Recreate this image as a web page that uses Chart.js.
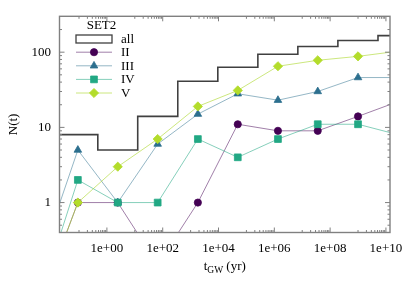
<!DOCTYPE html>
<html><head><meta charset="utf-8">
<script src="https://cdn.jsdelivr.net/npm/chart.js@4/dist/chart.umd.min.js"></script>
<style>html,body{margin:0;padding:0;background:#fff;overflow:hidden}</style>
</head><body>
<canvas id="c" width="415" height="291" style="width:415px;height:291px;display:block"></canvas>
<script>
// ---- data (bin centres of t_GW in yr) ----
const tBins = [0.0034, 0.091, 2.45, 66, 1820, 4.9e4, 1.35e6, 3.6e7, 1.0e9, 2.7e10];
const nAll  = [8, 8, 5, 14, 41, 63, 94, 119, 143, 166];
const nII   = [0.039, 1, 1, 0.15, 1, 11, 9, 9, 14, 22];
const nIII  = [0.14, 5, 1, 6, 15, 28, 23, 30, 46, 46];
const nIV   = [0.045, 2, 1, 1, 7, 4, 7, 11, 11, 8];
const nV    = [0.039, 1, 3, 7, 19, 31, 65, 78, 88, 103];
const seriesLabels = ['all', 'II', 'III', 'IV', 'V'];
const legendTitle = 'SET2';
const xTickValues = [1, 1e2, 1e4, 1e6, 1e8, 1e10];
const xTickLabels = ['1e+00', '1e+02', '1e+04', '1e+06', '1e+08', '1e+10'];
const yTickValues = [1, 10, 100];
const yTickLabels = ['1', '10', '100'];
const yTitle = 'N(t)';
const xTitleMain = 't', xTitleSub = 'GW', xTitleTail = ' (yr)';

const X_MIN = 0.02, X_MAX = 1.4e10, Y_MIN = 0.4, Y_MAX = 300;
const FONT = "'Liberation Serif','Times New Roman',serif";

// minor tick values
const xMinor = [];
[-1, 1, 3, 5, 7, 9].forEach(e => { for (let k = 1; k <= 9; k++) { const v = k * Math.pow(10, e); if (v > X_MIN && v < X_MAX) xMinor.push(v); } });
const yMinor = [];
[-1, 0, 1, 2].forEach(e => { for (let k = 2; k <= 9; k++) { const v = k * Math.pow(10, e); if (v > Y_MIN && v < Y_MAX) yMinor.push(v); } });

const pts = arr => tBins.map((t, i) => ({ x: t, y: arr[i] }));

const styles = [
  { color: '#404040', line: '#404040' },
  { color: '#440154', line: 'rgba(68,1,84,0.5)', style: 'circle', r: 3.6 },
  { color: '#2c6f8e', line: 'rgba(44,111,142,0.5)', style: 'triangle', r: 4.4 },
  { color: '#22a884', line: 'rgba(34,168,132,0.55)', style: 'rect', r: 4.8 },
  { color: '#b3dc2b', line: 'rgba(170,215,40,0.6)', style: 'rectRot', r: 4.6 }
];
const allData = [nAll, nII, nIII, nIV, nV];

const datasets = allData.map((arr, i) => {
  const s = styles[i];
  if (i === 0) {
    return { label: seriesLabels[0], data: pts(arr), stepped: 'middle', borderColor: s.line,
      borderWidth: 1.6, pointRadius: 0, fill: false, order: 10, clip: 0 };
  }
  return { label: seriesLabels[i], data: pts(arr), borderColor: s.line, borderWidth: 1,
    pointStyle: s.style, pointRadius: s.r, pointBackgroundColor: s.color, pointBorderColor: s.color,
    pointBorderWidth: 0.8, fill: false, tension: 0, order: 10 - i, clip: 0 };
});

function drawMarker(ctx, style, r, x, y, color) {
  if (Chart.helpers && Chart.helpers.drawPoint) {
    ctx.fillStyle = color; ctx.strokeStyle = color; ctx.lineWidth = 0.8;
    Chart.helpers.drawPoint(ctx, { pointStyle: style, radius: r, rotation: 0, borderWidth: 0.8 }, x, y);
  }
}

const deco = {
  id: 'deco',
  afterDatasetsDraw(chart) {
    const ctx = chart.ctx, a = chart.chartArea, xs = chart.scales.x, ys = chart.scales.y;
    ctx.save();
    // frame
    ctx.strokeStyle = '#808080'; ctx.lineWidth = 1.4;
    ctx.strokeRect(a.left, a.top, a.right - a.left, a.bottom - a.top);
    // inward ticks
    ctx.lineWidth = 1;
    const tickX = (v, len) => { const p = xs.getPixelForValue(v);
      ctx.beginPath(); ctx.moveTo(p, a.bottom); ctx.lineTo(p, a.bottom - len);
      ctx.moveTo(p, a.top); ctx.lineTo(p, a.top + len); ctx.stroke(); };
    const tickY = (v, len) => { const p = ys.getPixelForValue(v);
      ctx.beginPath(); ctx.moveTo(a.left, p); ctx.lineTo(a.left + len, p);
      ctx.moveTo(a.right, p); ctx.lineTo(a.right - len, p); ctx.stroke(); };
    xTickValues.forEach(v => tickX(v, 5)); xMinor.forEach(v => tickX(v, 2.5));
    yTickValues.forEach(v => tickY(v, 5)); yMinor.forEach(v => tickY(v, 2.5));

    // axis titles
    ctx.fillStyle = '#000';
    ctx.font = '13px ' + FONT;
    ctx.textBaseline = 'middle'; ctx.textAlign = 'center';
    ctx.save(); ctx.translate(13.5, (a.top + a.bottom) / 2); ctx.rotate(-Math.PI / 2);
    ctx.fillText(yTitle, 0, 0); ctx.restore();
    ctx.textBaseline = 'alphabetic'; ctx.textAlign = 'left';
    const fMain = '13px ' + FONT, fSub = '9.5px ' + FONT;
    ctx.font = fMain; const w1 = ctx.measureText(xTitleMain).width, w3 = ctx.measureText(xTitleTail).width;
    ctx.font = fSub; const w2 = ctx.measureText(xTitleSub).width;
    let x0 = (a.left + a.right) / 2 - (w1 + w2 + w3) / 2; const base = 270;
    ctx.font = fMain; ctx.fillText(xTitleMain, x0, base); x0 += w1;
    ctx.font = fSub; ctx.fillText(xTitleSub, x0, base + 3); x0 += w2;
    ctx.font = fMain; ctx.fillText(xTitleTail, x0, base);

    // legend
    const lx0 = 76, lx1 = 112, mx = 94, tx = 121;
    const rows = [39, 52.2, 65.8, 79.4, 93];
    ctx.font = '13px ' + FONT; ctx.textBaseline = 'middle';
    ctx.textAlign = 'center'; ctx.fillText(legendTitle, 101.5, 25.5);
    ctx.textAlign = 'left';
    chart.data.datasets.forEach((ds, i) => {
      const y = rows[i];
      if (i === 0) {
        ctx.strokeStyle = ds.borderColor; ctx.lineWidth = 1.3;
        ctx.strokeRect(lx0, y - 4, lx1 - lx0, 8);
      } else {
        ctx.strokeStyle = ds.borderColor; ctx.lineWidth = 1;
        ctx.beginPath(); ctx.moveTo(lx0, y); ctx.lineTo(lx1, y); ctx.stroke();
        drawMarker(ctx, ds.pointStyle, ds.pointRadius, mx, y, ds.pointBackgroundColor);
      }
      ctx.fillStyle = '#000';
      ctx.fillText(ds.label, tx, y + 0.5);
    });
    ctx.restore();
  }
};

new Chart(document.getElementById('c'), {
  type: 'line',
  data: { datasets },
  options: {
    responsive: false, animation: false, devicePixelRatio: 1,
    layout: { padding: { top: 13.5, right: 25, left: 0, bottom: 0 } },
    plugins: { legend: { display: false }, tooltip: { enabled: false } },
    scales: {
      x: {
        type: 'logarithmic', min: X_MIN, max: X_MAX, position: 'bottom',
        grid: { display: false, drawTicks: false }, border: { display: false },
        afterBuildTicks: s => { s.ticks = xTickValues.map(v => ({ value: v })); },
        afterFit: s => { s.height = 291 - 232.5; },
        ticks: { autoSkip: false, maxRotation: 0, padding: 8, color: '#000', font: { family: FONT, size: 13 },
          callback: (v) => { const i = xTickValues.indexOf(v); return i >= 0 ? xTickLabels[i] : ''; } }
      },
      y: {
        type: 'logarithmic', min: Y_MIN, max: Y_MAX,
        grid: { display: false, drawTicks: false }, border: { display: false },
        afterBuildTicks: s => { s.ticks = yTickValues.map(v => ({ value: v })); },
        afterFit: s => { s.width = 59.5; },
        ticks: { autoSkip: false, padding: 8.5, color: '#000', font: { family: FONT, size: 13 },
          callback: (v) => { const i = yTickValues.indexOf(v); return i >= 0 ? yTickLabels[i] : ''; } }
      }
    }
  },
  plugins: [deco]
});
</script>
</body></html>
